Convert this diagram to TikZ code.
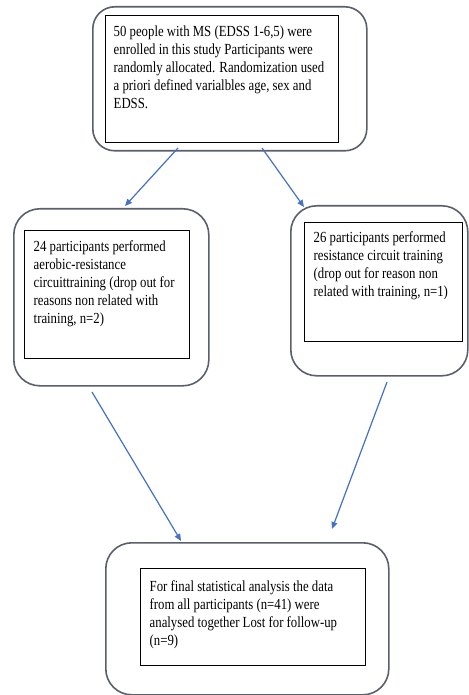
\documentclass[tikz,border=0pt]{standalone}
\usepackage{fontspec}
\setmainfont[FakeStretch=0.83]{Liberation Serif}
\usepackage{xcolor}
\usetikzlibrary{arrows.meta}
\definecolor{framegray}{HTML}{5A5F6B}
\definecolor{arrowblue}{HTML}{4472C4}
\newcommand{\boxtext}[3]{\parbox[c][#2][t]{#1}{\raggedright\strut #3}}

\begin{document}
\begin{tikzpicture}[x=0.5pt, y=-0.5pt,
  every node/.style={font=\fontsize{7.7}{9}\selectfont},
  outbox/.style={draw=framegray, line width=0.8pt, rounded corners=11pt, anchor=north west, inner sep=0pt},
  inbox/.style={draw=black, line width=0.7pt, anchor=north west, inner xsep=4.5pt, inner ysep=3pt},
  arr/.style={-{Triangle[length=3.5pt, width=3pt]}, draw=arrowblue, fill=arrowblue, line width=0.6pt}]
\useasboundingbox (0,0) rectangle (468,695);
% outer frames
\node[outbox, minimum width=137pt, minimum height=72pt] (enrolout) at (92,6) {};
\node[outbox, minimum width=97.5pt, minimum height=88.5pt, rounded corners=13pt] (aerobout) at (13,208) {};
\node[outbox, minimum width=88.5pt, minimum height=85pt, rounded corners=13pt] (resout) at (290,205) {};
\node[outbox, minimum width=141.5pt, minimum height=76pt, rounded corners=13pt] (finalout) at (105,542) {};
% inner boxes with text
\node[inbox, inner xsep=4pt, inner ysep=4pt] (enrol) at (105,15)
  {\boxtext{108.5pt}{55.5pt}{50 people with MS (EDSS 1-6,5) were\\ enrolled in this study Participants were\\ randomly allocated. Randomization used\\ a priori defined varialbles age, sex and\\ EDSS.}};
\node[inbox, inner ysep=4pt] (aerob) at (24,230)
  {\boxtext{73.5pt}{56pt}{24 participants performed\\ aerobic-resistance\\ circuittraining (drop out for\\ reasons non related with\\ training, n=2)}};
\node[inbox, inner ysep=3.5pt] (res) at (304,222)
  {\boxtext{70pt}{52.5pt}{26 participants performed\\ resistance circuit training\\ (drop out for reason non\\ related with training, n=1)}};
\node[inbox, inner ysep=5pt] (final) at (140,568)
  {\boxtext{103.5pt}{38.5pt}{For final statistical analysis the data\\ from all participants (n=41) were\\ analysed together Lost for follow-up\\ (n=9)}};
% arrow ends
\coordinate (enrolL) at (178,148);
\coordinate (enrolR) at (262,148);
\coordinate (aerobT) at (125,206);
\coordinate (resT) at (304,207);
\coordinate (aerobB) at (92,392);
\coordinate (resB) at (387,382);
\coordinate (finalL) at (181,541);
\coordinate (finalR) at (332,529);
\draw[arr] (enrolL) -- (aerobT);
\draw[arr] (enrolR) -- (resT);
\draw[arr] (aerobB) -- (finalL);
\draw[arr] (resB) -- (finalR);
\end{tikzpicture}
\end{document}
